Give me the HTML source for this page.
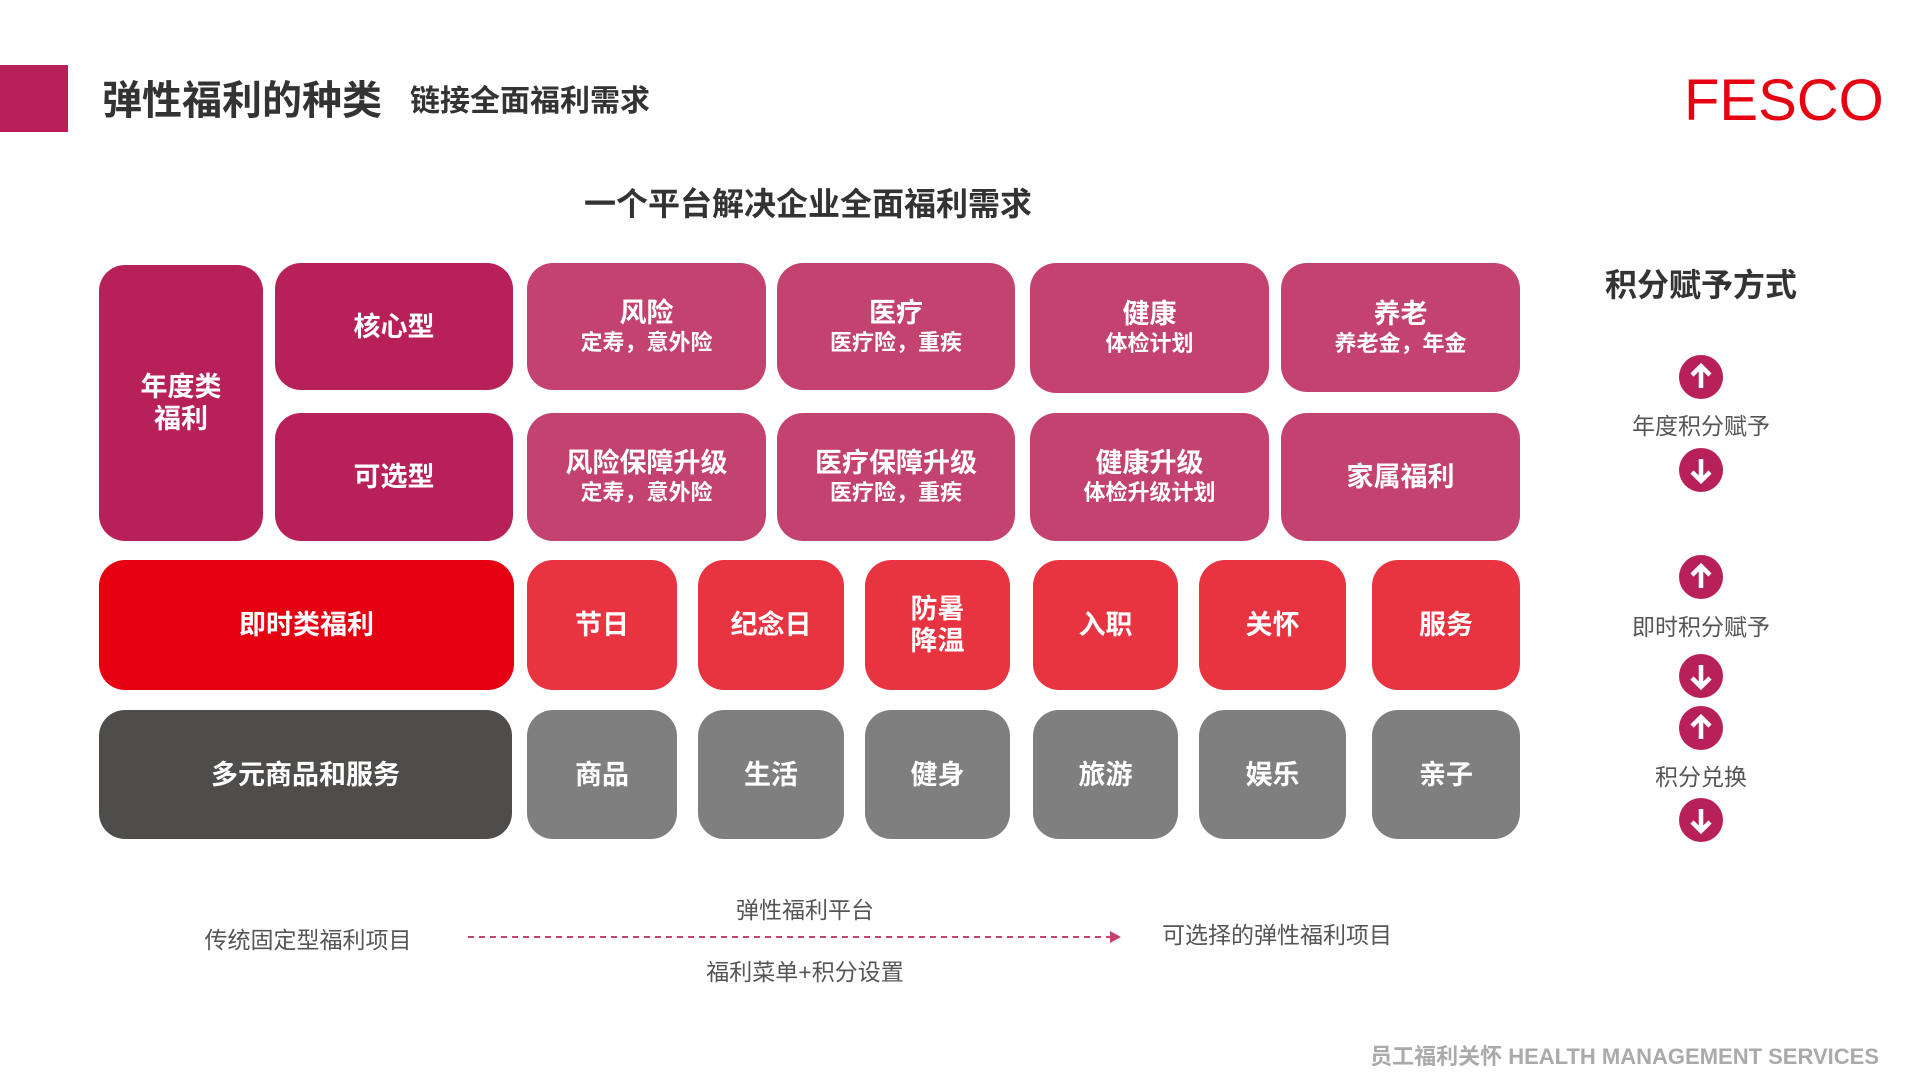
<!DOCTYPE html>
<html><head><meta charset="utf-8"><style>
*{margin:0;padding:0;box-sizing:border-box}
body{width:1920px;height:1080px;background:#fff;position:relative;overflow:hidden;font-family:"Liberation Sans","Noto Sans CJK SC",sans-serif}
.a{position:absolute}
.b{position:absolute;border-radius:26px;color:#fff;font-weight:bold;display:flex;flex-direction:column;align-items:center;justify-content:center;text-align:center;font-size:27px;line-height:32px}
.b small{font-size:22px;line-height:28px;font-weight:bold}
.m{background:#b8205a}.l{background:#c4426f}.r{background:#e50012}.lr{background:#e83340}.dg{background:#4f4d4b}.g{background:#7f7f7f}
.c{position:absolute;width:44px;height:44px;border-radius:50%;background:#b8205a;left:1679px}
.c svg{position:absolute;left:0;top:0}
.lab{position:absolute;font-size:23px;color:#555;transform:translate(-50%,-50%);white-space:nowrap}
</style></head><body>
<div class="a" style="left:0;top:65px;width:68px;height:67px;background:#b8205a"></div>
<div class="a" style="left:102px;top:68px;font-size:40px;font-weight:bold;color:#333">弹性福利的种类</div>
<div class="a" style="left:410px;top:76px;font-size:30px;font-weight:bold;color:#333">链接全面福利需求</div>
<div class="a" style="left:1684px;top:67px;font-size:58px;color:#e60012;font-weight:normal">FESCO</div>
<div class="a" style="left:584px;top:179px;font-size:32px;font-weight:bold;color:#333">一个平台解决企业全面福利需求</div>

<div class="b m" style="left:99px;top:265px;width:164px;height:276px">年度类<br>福利</div>
<div class="b m" style="left:275px;top:263px;width:238px;height:127px">核心型</div>
<div class="b m" style="left:275px;top:413px;width:238px;height:128px">可选型</div>
<div class="b l" style="left:527px;top:263px;width:239px;height:127px">风险<small>定寿，意外险</small></div>
<div class="b l" style="left:777px;top:263px;width:238px;height:127px">医疗<small>医疗险，重疾</small></div>
<div class="b l" style="left:1030px;top:263px;width:239px;height:130px">健康<small>体检计划</small></div>
<div class="b l" style="left:1281px;top:263px;width:239px;height:129px">养老<small>养老金，年金</small></div>
<div class="b l" style="left:527px;top:413px;width:239px;height:128px">风险保障升级<small>定寿，意外险</small></div>
<div class="b l" style="left:777px;top:413px;width:238px;height:128px">医疗保障升级<small>医疗险，重疾</small></div>
<div class="b l" style="left:1030px;top:413px;width:239px;height:128px">健康升级<small>体检升级计划</small></div>
<div class="b l" style="left:1281px;top:413px;width:239px;height:128px">家属福利</div>

<div class="b r" style="left:99px;top:560px;width:415px;height:130px">即时类福利</div>
<div class="b lr" style="left:527px;top:560px;width:150px;height:130px">节日</div>
<div class="b lr" style="left:698px;top:560px;width:146px;height:130px">纪念日</div>
<div class="b lr" style="left:865px;top:560px;width:145px;height:130px">防暑<br>降温</div>
<div class="b lr" style="left:1033px;top:560px;width:145px;height:130px">入职</div>
<div class="b lr" style="left:1199px;top:560px;width:147px;height:130px">关怀</div>
<div class="b lr" style="left:1372px;top:560px;width:148px;height:130px">服务</div>

<div class="b dg" style="left:99px;top:710px;width:413px;height:129px">多元商品和服务</div>
<div class="b g" style="left:527px;top:710px;width:150px;height:129px">商品</div>
<div class="b g" style="left:698px;top:710px;width:146px;height:129px">生活</div>
<div class="b g" style="left:865px;top:710px;width:145px;height:129px">健身</div>
<div class="b g" style="left:1033px;top:710px;width:145px;height:129px">旅游</div>
<div class="b g" style="left:1199px;top:710px;width:147px;height:129px">娱乐</div>
<div class="b g" style="left:1372px;top:710px;width:148px;height:129px">亲子</div>

<div class="a" style="left:1701px;top:283px;transform:translate(-50%,-50%);font-size:32px;font-weight:bold;color:#333;white-space:nowrap">积分赋予方式</div>
<div class="c" style="top:355px"><svg width="44" height="44"><path d="M22 33V12M13 20l9-9 9 9" stroke="#fff" stroke-width="4.5" fill="none"/></svg></div>
<div class="lab" style="left:1701px;top:424px">年度积分赋予</div>
<div class="c" style="top:448px"><svg width="44" height="44"><path d="M22 11v21M13 24l9 9 9-9" stroke="#fff" stroke-width="4.5" fill="none"/></svg></div>
<div class="c" style="top:555px"><svg width="44" height="44"><path d="M22 33V12M13 20l9-9 9 9" stroke="#fff" stroke-width="4.5" fill="none"/></svg></div>
<div class="lab" style="left:1701px;top:625px">即时积分赋予</div>
<div class="c" style="top:654px"><svg width="44" height="44"><path d="M22 11v21M13 24l9 9 9-9" stroke="#fff" stroke-width="4.5" fill="none"/></svg></div>
<div class="c" style="top:706px"><svg width="44" height="44"><path d="M22 33V12M13 20l9-9 9 9" stroke="#fff" stroke-width="4.5" fill="none"/></svg></div>
<div class="lab" style="left:1701px;top:775px">积分兑换</div>
<div class="c" style="top:798px"><svg width="44" height="44"><path d="M22 11v21M13 24l9 9 9-9" stroke="#fff" stroke-width="4.5" fill="none"/></svg></div>

<div class="lab" style="left:308px;top:938px">传统固定型福利项目</div>
<div class="lab" style="left:805px;top:908px">弹性福利平台</div>
<div class="lab" style="left:805px;top:970px">福利菜单+积分设置</div>
<div class="lab" style="left:1277px;top:933px">可选择的弹性福利项目</div>
<svg class="a" style="left:460px;top:925px" width="670" height="24"><line x1="8" y1="12" x2="650" y2="12" stroke="#c4426f" stroke-width="2" stroke-dasharray="6,5"/><path d="M650 6l11 6-11 6z" fill="#c4426f"/></svg>

<div class="a" style="right:41px;top:1039px;font-size:22px;font-weight:bold;color:#aaa;white-space:nowrap">员工福利关怀 HEALTH MANAGEMENT SERVICES</div>
</body></html>
